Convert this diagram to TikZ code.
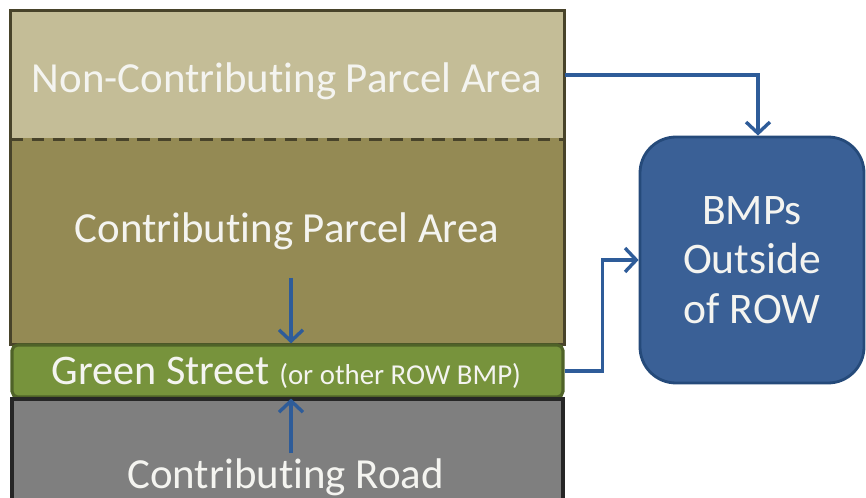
\documentclass[tikz,border=0pt]{standalone}
\usepackage{fontspec}
\setmainfont[Ligatures=NoCommon]{Carlito}
\usepackage{xcolor}
\usetikzlibrary{arrows.meta,positioning}

\definecolor{parcellight}{HTML}{C4BD97}
\definecolor{parceldark}{HTML}{948A54}
\definecolor{parcelline}{HTML}{48432A}
\definecolor{greenfill}{HTML}{77933C}
\definecolor{greenline}{HTML}{4F6228}
\definecolor{roadfill}{HTML}{7F7F7F}
\definecolor{roadline}{HTML}{262626}
\definecolor{bmpfill}{HTML}{3A6096}
\definecolor{bmpline}{HTML}{254A7A}
\definecolor{flowblue}{HTML}{2E5C99}
\definecolor{labeltext}{HTML}{F4F4F0}

\begin{document}
\begin{tikzpicture}[
    layer/.style={minimum width=13.775cm, inner sep=0pt, line width=2.2pt},
    lbl/.style={text=labeltext, anchor=base, inner sep=0pt, font=\fontsize{30.5}{36}\selectfont},
    flow/.style={draw=flowblue, line width=2.4pt, -{Straight Barb[length=8pt,width=17pt,line width=2.4pt]}}
]
    \clip (0,0) rectangle (21.65,-12.45);

    % Parcel layers
    \node[layer, fill=parcellight, minimum height=3.15cm] (nonparcel) at (7.1875,-1.875) {};
    \node[layer, fill=parceldark, minimum height=5.125cm] (parcel) at (7.1875,-6.0125) {};
    \draw[parcelline, line width=2.2pt] (nonparcel.north west) rectangle (parcel.south east);
    \draw[parcelline, line width=2.2pt, dash pattern=on 9pt off 6pt] (nonparcel.south west) -- (nonparcel.south east);

    % Street and road
    \node[layer, draw=greenline, fill=greenfill, rounded corners=4pt, minimum height=1.3cm] (green) at (7.1875,-9.275) {};
    \node[layer, draw=roadline, fill=roadfill, minimum height=3.8cm] (road) at (7.1875,-11.875) {};

    % BMPs outside
    \node[draw=bmpline, fill=bmpfill, line width=2pt, rounded corners=0.9cm,
          minimum width=5.6cm, minimum height=6.15cm] (bmp) at (18.8,-6.5) {};

    % Labels
    \node[lbl] (nonparceltext) at (7.175,-2.325) {Non-Contributing Parcel Area};
    \node[lbl] (parceltext) at (7.175,-6.075) {Contributing Parcel Area};
    \node[lbl, font=\fontsize{30}{36}\selectfont] (greentext) at (7.16,-9.6)
        {Green Street {\fontsize{20.5}{24}\selectfont (or other ROW BMP)}};
    \node[lbl] (roadtext) at (7.14,-12.2) {Contributing Road};
    \node[lbl, anchor=center, align=center, font=\fontsize{31}{35.4}\selectfont] (bmptext) at (bmp.center)
        {BMPs\\Outside\\of ROW};

    % Flows
    \coordinate (dropin) at (7.275,-6.95);
    \coordinate (roadrise) at (7.275,-11.325);
    \draw[flow] (nonparcel.east) -| ([xshift=0.15cm]bmp.north);
    \draw[flow] (green.east) -- ++(0.95,0) |- (bmp.west);
    \draw[flow] (dropin) -- (dropin |- green.north);
    \draw[flow] (roadrise) -- (roadrise |- green.south);
\end{tikzpicture}
\end{document}
